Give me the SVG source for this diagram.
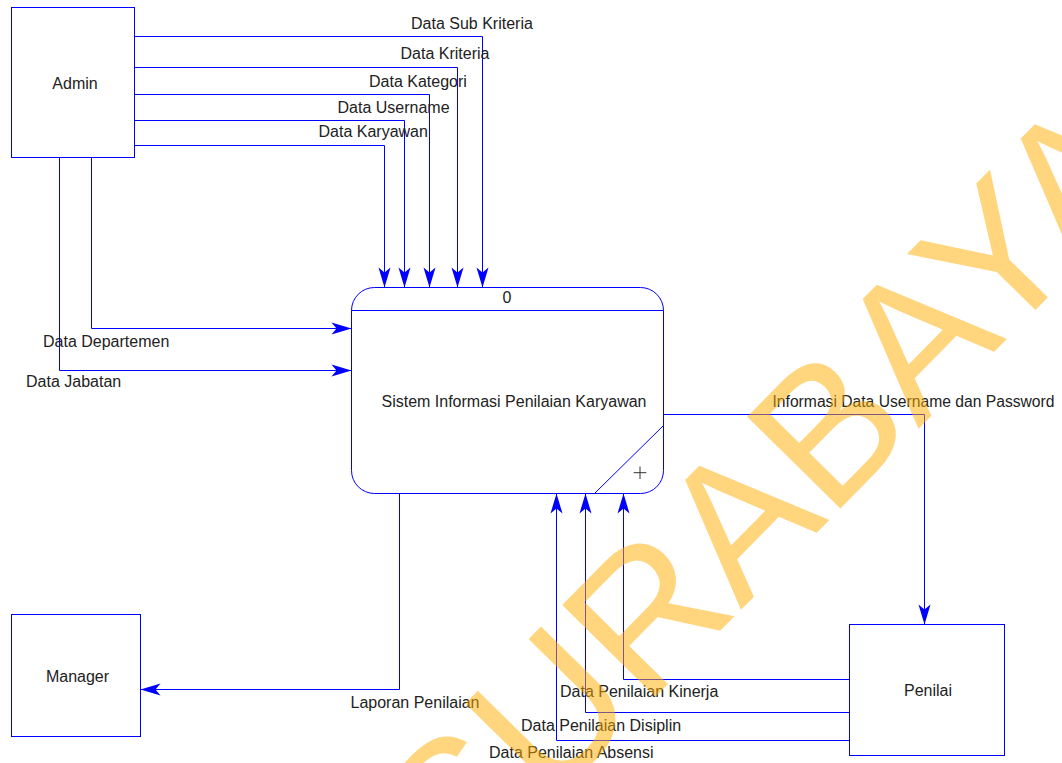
<svg xmlns="http://www.w3.org/2000/svg" width="1062" height="763" viewBox="0 0 1062 763">
  <style>
    .box { fill: #ffffff; stroke: #0000ff; stroke-width: 1; }
    .flow { fill: none; stroke: #0000ff; stroke-width: 1; marker-end: url(#arrow); }
    .line { fill: none; stroke: #0000ff; stroke-width: 1; }
    .txt { font-family: "Liberation Sans", Arial, sans-serif; font-size: 16px; fill: #222222; }
    .mid { text-anchor: middle; }
    .wm { font-family: "Liberation Sans", Arial, sans-serif; font-size: 190px; fill: #ffad00; opacity: 0.5; }
  </style>
  <defs>
    <marker id="arrow" markerUnits="userSpaceOnUse" markerWidth="22" markerHeight="14" viewBox="-21 -7 22 14" refX="0" refY="0" orient="auto">
      <path d="M0,0 L-20,-6 L-15,0 L-20,6 Z" fill="#0000ff"/>
    </marker>
  </defs>
  <rect width="1062" height="763" fill="#ffffff"/>

  <!-- external entity: Admin -->
  <g id="node-admin">
    <rect class="box" x="11.5" y="7.5" width="123" height="150"/>
    <text class="txt mid" x="75" y="89">Admin</text>
  </g>

  <!-- process 0 -->
  <g id="node-process">
    <rect class="box" x="351.5" y="287.5" width="312" height="206" rx="23" ry="23"/>
    <line class="line" x1="351.5" y1="310.5" x2="663.5" y2="310.5"/>
    <line class="line" x1="594.5" y1="493.5" x2="663.5" y2="425.5"/>
    <text class="txt mid" x="507" y="303">0</text>
    <text class="txt mid" x="514" y="407">Sistem Informasi Penilaian Karyawan</text>
    <path d="M640,466.5 V479 M633.7,472.7 H646.3" stroke="#333333" stroke-width="1" fill="none"/>
  </g>

  <!-- external entity: Manager -->
  <g id="node-manager">
    <rect class="box" x="11.5" y="614.5" width="129" height="122"/>
    <text class="txt mid" x="77.5" y="682">Manager</text>
  </g>

  <!-- external entity: Penilai -->
  <g id="node-penilai">
    <rect class="box" x="849.5" y="624.5" width="155" height="131"/>
    <text class="txt mid" x="928" y="696">Penilai</text>
  </g>

  <!-- data flows -->
  <g id="connectors">
    <g id="flow-sub-kriteria">
      <path class="flow" d="M134.5,36.5 H482.5 V287.5"/>
      <text class="txt" x="411" y="29">Data Sub Kriteria</text>
    </g>
    <g id="flow-kriteria">
      <path class="flow" d="M134.5,67.5 H457.5 V287.5"/>
      <text class="txt" x="400.5" y="59">Data Kriteria</text>
    </g>
    <g id="flow-kategori">
      <path class="flow" d="M134.5,94.5 H429.5 V287.5"/>
      <text class="txt" x="369" y="87">Data Kategori</text>
    </g>
    <g id="flow-username">
      <path class="flow" d="M134.5,120.5 H404.5 V287.5"/>
      <text class="txt" x="337.5" y="113">Data Username</text>
    </g>
    <g id="flow-karyawan">
      <path class="flow" d="M134.5,145.5 H384.5 V287.5"/>
      <text class="txt" x="318.5" y="137">Data Karyawan</text>
    </g>
    <g id="flow-departemen">
      <path class="flow" d="M91.5,157.5 V328.5 H351.5"/>
      <text class="txt" x="43" y="347">Data Departemen</text>
    </g>
    <g id="flow-jabatan">
      <path class="flow" d="M59.5,157.5 V370.5 H351.5"/>
      <text class="txt" x="26" y="387">Data Jabatan</text>
    </g>
    <g id="flow-info-username">
      <path class="flow" d="M663.5,414.5 H924.5 V624.5"/>
      <text class="txt" x="772.5" y="407" textLength="282" lengthAdjust="spacingAndGlyphs">Informasi Data Username dan Password</text>
    </g>
    <g id="flow-laporan">
      <path class="flow" d="M399.5,493.5 V689.5 H140.5"/>
      <text class="txt" x="350.5" y="708">Laporan Penilaian</text>
    </g>
    <g id="flow-kinerja">
      <path class="flow" d="M849.5,679.5 H623.5 V493.5"/>
      <text class="txt" x="560" y="697">Data Penilaian Kinerja</text>
    </g>
    <g id="flow-disiplin">
      <path class="flow" d="M849.5,712.5 H585.5 V493.5"/>
      <text class="txt" x="521" y="731">Data Penilaian Disiplin</text>
    </g>
    <g id="flow-absensi">
      <path class="flow" d="M849.5,740.5 H556.5 V493.5"/>
      <text class="txt" x="489" y="758">Data Penilaian Absensi</text>
    </g>
  </g>

  <!-- translucent watermark across the page -->
  <g id="watermark">
    <text class="wm" transform="translate(459.5,896) rotate(-45.5)">SURABAYA</text>
  </g>
</svg>
